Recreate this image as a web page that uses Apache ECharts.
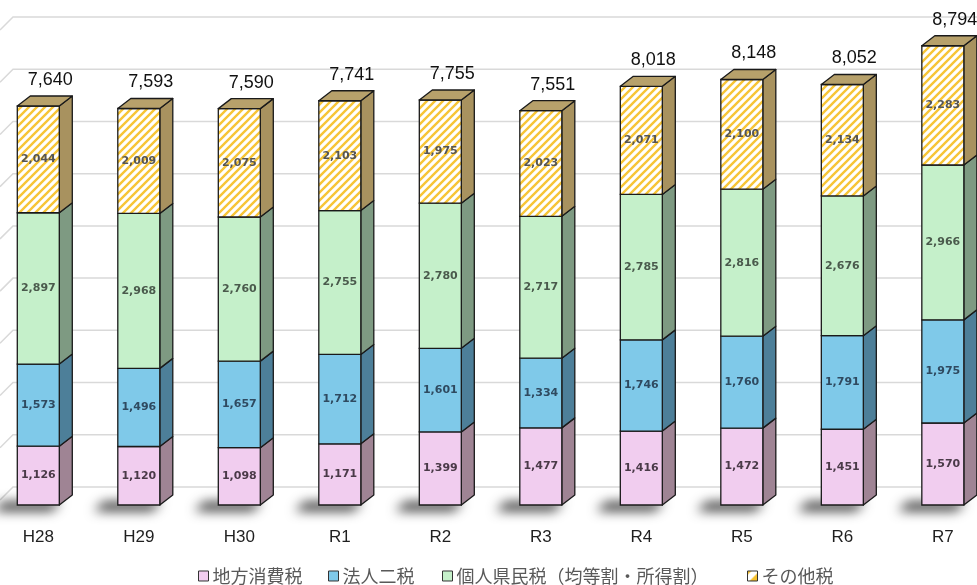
<!DOCTYPE html>
<html>
<head>
<meta charset="utf-8">
<script src="https://cdn.jsdelivr.net/npm/echarts@6/dist/echarts.min.js"></script>
<style>
  html, body { margin: 0; padding: 0; background: #ffffff; }
  #chart { width: 977px; height: 585px; }
</style>
</head>
<body>
<div id="chart"></div>
<script>
// Fiscal years and tax revenue (億円) by category
const years = ['H28', 'H29', 'H30', 'R1', 'R2', 'R3', 'R4', 'R5', 'R6', 'R7'];
const localConsumptionTax = [1126, 1120, 1098, 1171, 1399, 1477, 1416, 1472, 1451, 1570];
const corporateTaxes      = [1573, 1496, 1657, 1712, 1601, 1334, 1746, 1760, 1791, 1975];
const residentTax         = [2897, 2968, 2760, 2755, 2780, 2717, 2785, 2816, 2676, 2966];
const otherTaxes          = [2044, 2009, 2075, 2103, 1975, 2023, 2071, 2100, 2134, 2283];
const seriesNames = ['地方消費税', '法人二税', '個人県民税（均等割・所得割）', 'その他税'];
const gridValues = [0, 1000, 2000, 3000, 4000, 5000, 6000, 7000, 8000, 9000];

const stackValues = [localConsumptionTax, corporateTaxes, residentTax, otherTaxes];
const totals = years.map((_, i) => stackValues.reduce((s, arr) => s + arr[i], 0));

// Diagonal yellow hatch used for the その他税 faces
function makeHatch() {
  const c = document.createElement('canvas');
  c.width = 8; c.height = 8;
  const ctx = c.getContext('2d');
  ctx.fillStyle = '#ffffff';
  ctx.fillRect(0, 0, 8, 8);
  ctx.strokeStyle = '#f7c537';
  ctx.lineWidth = 2.4;
  ctx.beginPath();
  for (const k of [-8, 0, 8]) {
    ctx.moveTo(k - 1, 9);
    ctx.lineTo(k + 9, -1);
  }
  ctx.stroke();
  return c;
}
const hatch = { image: makeHatch(), repeat: 'repeat' };

function makeLegendHatch() {
  const c = document.createElement('canvas');
  c.width = 10; c.height = 10;
  const ctx = c.getContext('2d');
  ctx.fillStyle = '#f6c12e'; ctx.fillRect(0, 0, 10, 10);
  ctx.fillStyle = '#ffffff';
  ctx.beginPath();
  ctx.moveTo(0, 10); ctx.lineTo(0, 4); ctx.lineTo(4, 0); ctx.lineTo(10, 0);
  ctx.lineTo(10, 2); ctx.lineTo(2, 10); ctx.closePath(); ctx.fill();
  return c;
}

const FRONT = ['#f1cdef', '#7fc9e9', '#c5f0ca', hatch];
const SIDE  = ['#9f8494', '#4d7f99', '#7e9a82', '#a8925f'];
const TOP_FACE = '#b7a16b';
const LABEL_COLOR = ['#4a3a48', '#2f4a60', '#4a5a4c', '#555555'];
const BAR_W = 42, DX = 13, DY = 10;
const SHADOW_SHIFT = 3000;
const fmt = v => v.toLocaleString('en-US');

function makeRender(si) {
  return function (params, api) {
    const i = api.value(0), lo = api.value(1), hi = api.value(2), raw = api.value(3);
    const pb = api.coord([i, lo]);
    const pt = api.coord([i, hi]);
    const x0 = pb[0] - BAR_W / 2;
    const yb = pb[1], yt = pt[1];
    const children = [];
    if (si === 0) {
      // soft floor shadow to the lower left of each column: the shape sits off-canvas
      // and only its blurred shadow is cast back under the column
      const s = SHADOW_SHIFT;
      children.push({
        type: 'polygon',
        shape: { points: [[x0 - 24 - s, yb + 6], [x0 + BAR_W - 8 - s, yb + 6], [x0 + BAR_W + 2 - s, yb - 3], [x0 - 14 - s, yb - 3]] },
        style: { fill: '#000000', shadowBlur: 12, shadowColor: 'rgba(0,0,0,0.8)', shadowOffsetX: s, shadowOffsetY: 0 }
      });
    }
    children.push({
      type: 'polygon',
      shape: { points: [[x0 + BAR_W, yb], [x0 + BAR_W + DX, yb - DY], [x0 + BAR_W + DX, yt - DY], [x0 + BAR_W, yt]] },
      style: { fill: SIDE[si], stroke: '#1a1a1a', lineWidth: 1.3, lineJoin: 'round' }
    });
    children.push({
      type: 'rect',
      shape: { x: x0, y: yt, width: BAR_W, height: yb - yt },
      style: { fill: FRONT[si], stroke: '#1a1a1a', lineWidth: 1.3 }
    });
    children.push({
      type: 'text',
      style: {
        x: x0 + BAR_W / 2, y: (yt + yb) / 2, text: fmt(raw),
        fill: LABEL_COLOR[si], font: 'bold 11px "DejaVu Sans"',
        align: 'center', verticalAlign: 'middle'
      }
    });
    if (si === stackValues.length - 1) {
      children.push({
        type: 'polygon',
        shape: { points: [[x0, yt], [x0 + BAR_W, yt], [x0 + BAR_W + DX, yt - DY], [x0 + DX, yt - DY]] },
        style: { fill: TOP_FACE, stroke: '#1a1a1a', lineWidth: 1.3, lineJoin: 'round' }
      });
      children.push({
        type: 'text',
        style: {
          x: x0 + BAR_W / 2 + 12, y: yt - 26, text: fmt(totals[i]),
          fill: '#111111', font: '18px "Liberation Sans"',
          align: 'center', verticalAlign: 'middle'
        }
      });
    }
    return { type: 'group', children };
  };
}

const segmentSeries = stackValues.map((arr, si) => ({
  name: seriesNames[si],
  type: 'custom',
  renderItem: makeRender(si),
  itemStyle: { color: si === 3 ? '#f6c12e' : FRONT[si] },
  encode: { x: 0, y: [1, 2] },
  data: arr.map((v, i) => {
    let lo = 0;
    for (let k = 0; k < si; k++) lo += stackValues[k][i];
    return [i, lo, lo + v, v];
  }),
  z: 3 + si
}));

// Back wall gridlines with the slanted side-wall segment at the left edge
const wallSeries = {
  type: 'custom',
  silent: true,
  z: 1,
  renderItem: function (params, api) {
    const y = api.coord([0, api.value(1)])[1] - 18;
    return {
      type: 'polyline',
      shape: { points: [[0, y + 13], [13, y], [api.getWidth(), y]] },
      style: { stroke: '#d9d9d9', lineWidth: 1.5, fill: null }
    };
  },
  encode: { x: 0, y: 1 },
  data: gridValues.map(v => [0, v])
};

// Year labels under each column
const yearLabelSeries = {
  type: 'custom',
  silent: true,
  z: 2,
  renderItem: function (params, api) {
    const p = api.coord([api.value(0), 0]);
    return {
      type: 'text',
      style: {
        x: p[0], y: p[1] + 32, text: years[api.value(0)],
        fill: '#1f1f1f', font: '17px "Liberation Sans"',
        align: 'center', verticalAlign: 'middle'
      }
    };
  },
  encode: { x: 0, y: 1 },
  data: years.map((_, i) => [i, 0])
};

const legendLefts = [193, 323, 437, 742];
const legends = seriesNames.map((name, si) => ({
  left: legendLefts[si],
  top: 562,
  itemWidth: 10,
  itemHeight: 10,
  itemGap: 0,
  selectedMode: false,
  textStyle: { fontFamily: '"Noto Sans CJK JP"', fontSize: 18, color: '#595959', padding: [0, 0, 0, -1] },
  data: [{
    name,
    icon: 'rect',
    itemStyle: {
      color: si === 3 ? { image: makeLegendHatch(), repeat: 'no-repeat' } : FRONT[si],
      borderColor: '#333333',
      borderWidth: 1
    }
  }]
}));

const chart = echarts.init(document.getElementById('chart'), null, { renderer: 'canvas' });
chart.setOption({
  animation: false,
  backgroundColor: '#ffffff',
  legend: legends,
  grid: { left: 0, right: 0, top: 35, bottom: 80 },
  xAxis: {
    type: 'value',
    min: -0.381,
    max: 9.34,
    show: false,
    splitLine: { show: false }
  },
  yAxis: {
    type: 'value',
    min: 0, max: 9000, interval: 1000,
    axisLine: { show: false },
    axisTick: { show: false },
    axisLabel: { show: false },
    splitLine: { show: false }
  },
  series: [wallSeries, yearLabelSeries].concat(segmentSeries)
});
</script>
</body>
</html>
